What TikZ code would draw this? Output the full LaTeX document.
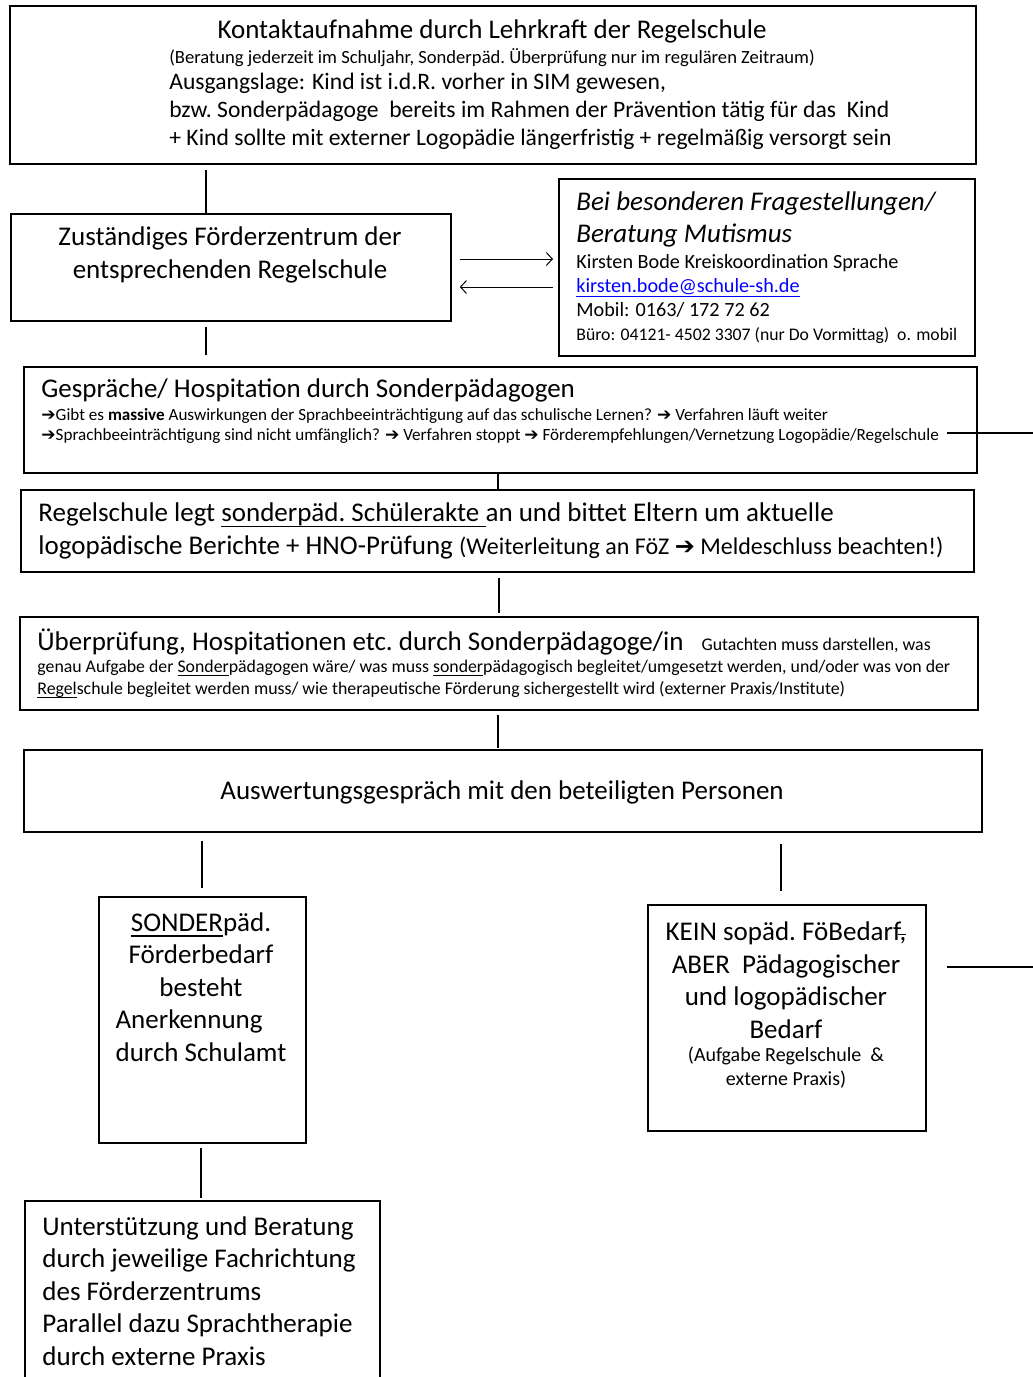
\documentclass[tikz,border=0pt]{standalone}
\usepackage{fontspec}
\setmainfont{Carlito}
\newfontfamily\arrfont{DejaVu Sans}
\usetikzlibrary{arrows.meta,positioning,calc}
\newcommand{\goarrow}{{\arrfont ➔}}
\newcommand{\strikecomma}{,\llap{\rule[0.4ex]{0.3em}{0.06em}}}
\newsavebox\ulbox
\newcommand{\ulfix}[1]{\sbox\ulbox{#1}\rlap{\usebox\ulbox}\rule[-0.2em]{\wd\ulbox}{0.06em}}

\begin{document}
\begin{tikzpicture}[x=0.5pt,y=-0.5pt,
box/.style={draw,line width=0.9pt,anchor=north west,inner sep=0pt},
txt/.style={inner sep=0pt,align=left},
head/.style={txt,font=\fontsize{13.5}{16.25}\selectfont},
body/.style={txt,font=\fontsize{11.8}{14}\selectfont},
note/.style={txt,font=\fontsize{8.55}{10}\selectfont},
link/.style={line width=0.9pt},
arr/.style={-{Straight Barb[length=3pt,width=6.5pt]},line width=0.5pt}
]
\useasboundingbox (0,0) rectangle (1033,1377);
\clip (0,0) rectangle (1033,1377);

\node[box,minimum width=483pt,minimum height=79pt] (top) at (9,5) {};
\node[box,minimum width=220pt,minimum height=53.5pt] (zf) at (10,213) {};
\node[box,minimum width=208pt,minimum height=88.5pt] (kb) at (558,178) {};
\node[box,minimum width=476.5pt,minimum height=53pt] (gesp) at (23,366) {};
\node[box,minimum width=476.5pt,minimum height=41pt] (rs) at (20,489) {};
\node[box,minimum width=479pt,minimum height=46.5pt] (ueb) at (19,616) {};
\node[box,minimum width=479pt,minimum height=41pt] (ausw) at (23,749) {};
\node[box,minimum width=103.5pt,minimum height=123pt] (sp) at (98,896) {};
\node[box,minimum width=139pt,minimum height=113pt] (kein) at (647,904) {};
\node[box,minimum width=177.5pt,minimum height=125pt] (unt) at (24,1200) {};

\node[head] (toph) at (492,31) {Kontaktaufnahme durch Lehrkraft der Regelschule};
\node[note,font=\fontsize{9.3}{11}\selectfont] (tops) at (492,58) {(Beratung jederzeit im Schuljahr, Sonderpäd.\ Überprüfung nur im regulären Zeitraum)};
\node[body,anchor=west] (topb) at (169,111) {Ausgangslage: Kind ist i.d.R.\ vorher in SIM gewesen,\\bzw.\ Sonderpädagoge\ \ bereits im Rahmen der Prävention tätig für das\ \ Kind\\+ Kind sollte mit externer Logopädie längerfristig + regelmäßig versorgt sein};

\node[head,align=center] (zft) at (230,255) {Zuständiges Förderzentrum der\\entsprechenden Regelschule};

\node[head,anchor=west,font=\fontsize{13.5}{16}\selectfont\itshape] (kbh) at (576,219) {Bei besonderen Fragestellungen/\\Beratung Mutismus};
\node[txt,anchor=west,font=\fontsize{10.1}{12}\selectfont] (kbt) at (576,299.5) {Kirsten Bode Kreiskoordination Sprache\\\textcolor{blue}{\ulfix{kirsten.bode@schule-sh.de}}\\Mobil: 0163/ 172 72 62\\{\fontsize{8.85}{12}\selectfont Büro: 04121- 4502 3307 (nur Do Vormittag)\ \ o. mobil}};

\node[head,anchor=west] (gesph) at (41,390) {Gespräche/ Hospitation durch Sonderpädagogen};
\node[note,anchor=west] (gespt) at (41,426) {\goarrow Gibt es \textbf{massive} Auswirkungen der Sprachbeeinträchtigung auf das schulische Lernen? \goarrow{} Verfahren läuft weiter\\\goarrow Sprachbeeinträchtigung sind nicht umfänglich? \goarrow{} Verfahren stoppt \goarrow{} Förderempfehlungen/Vernetzung Logopädie/Regelschule};

\node[head,anchor=west] (rst) at (38,531) {Regelschule legt \ulfix{sonderpäd.\ Schülerakte\ }an und bittet Eltern um aktuelle\\logopädische Berichte + HNO-Prüfung {\fontsize{12}{16.25}\selectfont(Weiterleitung an FöZ \goarrow{} Meldeschluss beachten!)}};

\node[head,anchor=west] (uebh) at (37,642) {Überprüfung, Hospitationen etc.\ durch Sonderpädagoge/in\hspace{9pt}{\fontsize{8.9}{11}\selectfont Gutachten muss darstellen, was}};
\node[txt,anchor=west,font=\fontsize{8.9}{11}\selectfont] (uebt) at (37,679) {genau Aufgabe der \ulfix{Sonder}pädagogen wäre/ was muss \ulfix{sonder}pädagogisch begleitet/umgesetzt werden, und/oder was von der\\\ulfix{Regel}schule begleitet werden muss/ wie therapeutische Förderung sichergestellt wird (externer Praxis/Institute)};

\node[head] (auswt) at (502,792) {Auswertungsgespräch mit den beteiligten Personen};

\node[head,align=center] (spt) at (201,987) {\ulfix{SONDER}päd.\\Förderbedarf\\besteht\\\rlap{Anerkennung}\phantom{durch Schulamt}\\durch Schulamt};

\node[head,align=center] (keint) at (786,980) {KEIN sopäd.\ FöBedarf\strikecomma\\ABER\ \ Pädagogischer\\und logopädischer\\Bedarf};
\node[txt,align=center,font=\fontsize{10}{12}\selectfont] (keins) at (786,1068) {(Aufgabe Regelschule\ \ \&\\externe Praxis)};

\node[head,anchor=west] (untt) at (42,1291) {Unterstützung und Beratung\\durch jeweilige Fachrichtung\\des Förderzentrums\\Parallel dazu Sprachtherapie\\durch externe Praxis};

\draw[link,shorten <=2.5pt] (top.south -| 206,0) -- (zf.north -| 206,0);
\draw[link,shorten <=2.5pt,shorten >=5.5pt] (zf.south -| 206,0) -- (gesp.north -| 206,0);
\draw[link] (gesp.south -| 498,0) -- (rs.north -| 498,0);
\draw[link,shorten <=2.5pt,shorten >=1.5pt] (rs.south -| 499,0) -- (ueb.north -| 499,0);
\draw[link,shorten <=2pt,shorten >=0.5pt] (ueb.south -| 498,0) -- (ausw.north -| 498,0);
\draw[link,shorten <=4pt,shorten >=4pt] (ausw.south -| 202,0) -- (sp.north -| 202,0);
\draw[link,shorten <=5.5pt,shorten >=6.5pt] (ausw.south -| 781,0) -- (kein.north -| 781,0);
\draw[link,shorten <=2pt,shorten >=1pt] (sp.south -| 201,0) -- (unt.north -| 201,0);

\draw[arr,shorten <=4pt,shorten >=2.5pt] (zf.east |- 0,259) -- (kb.west |- 0,259);
\draw[arr,shorten <=2.5pt,shorten >=4pt] (kb.west |- 0,287) -- (zf.east |- 0,287);

\coordinate (gout) at (1033,433);
\coordinate (kout) at (1033,967);
\draw[link] ($(gesp.east |- gout)+(-31,0)$) -- (gout);
\draw[link] ($(kein.east |- kout)+(20,0)$) -- (kout);
\end{tikzpicture}
\end{document}
